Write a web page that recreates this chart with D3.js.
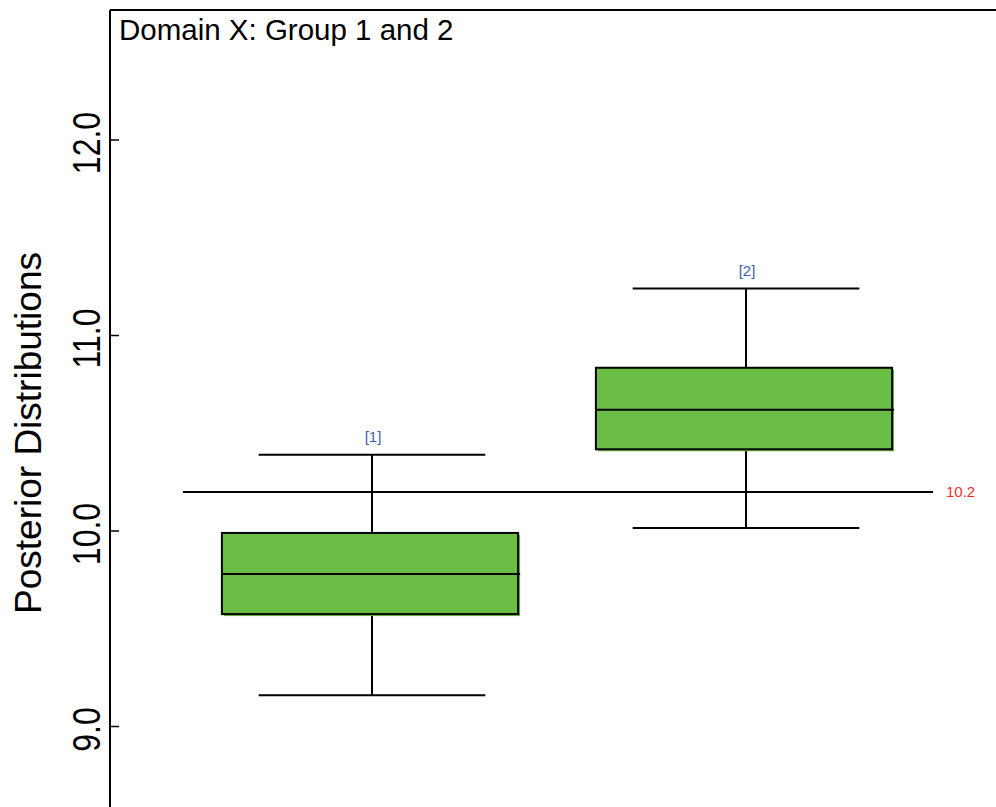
<!DOCTYPE html>
<html>
<head>
<meta charset="utf-8">
<script src="https://cdn.jsdelivr.net/npm/d3@7"></script>
<style>
  html, body { margin: 0; padding: 0; background: #fff; }
  svg { display: block; font-family: "Liberation Sans", Arial, sans-serif; }
</style>
</head>
<body>
<svg id="chart" width="996" height="807"></svg>
<script>
// Posterior summaries per group
const groups = [1, 2];
const groupLabels = ["[1]", "[2]"];
const whiskerLow = [9.16, 10.015];
const q1 = [9.575, 10.418];
const median = [9.78, 10.62];
const q3 = [9.99, 10.835];
const whiskerHigh = [10.39, 11.24];
const refValue = 10.2;
const yTicks = [9.0, 10.0, 11.0, 12.0];
const title = "Domain X: Group 1 and 2";
const yTitle = "Posterior Distributions";

const svg = d3.select("#chart");
const W = 996, H = 807;
const frameLeft = 110, frameTop = 10;

const x = d3.scaleLinear().domain([0.5, 2.5]).range([185, 933]);
const y = d3.scaleLinear().domain([10, 11]).range([531, 335.5]);

const boxHalf = 0.396;   // half box width in group units
const capHalf = 0.303;   // half cap width in group units
const boxShift = -2;     // boxes sit slightly left of the whisker stems

// frame: left axis and top border
svg.append("line").attr("x1", frameLeft).attr("x2", frameLeft).attr("y1", frameTop).attr("y2", H)
  .attr("stroke", "#000").attr("stroke-width", 2);
svg.append("line").attr("x1", frameLeft).attr("x2", W).attr("y1", frameTop).attr("y2", frameTop)
  .attr("stroke", "#000").attr("stroke-width", 2);

// y axis ticks (inward) and rotated labels
const yAxis = svg.append("g");
yTicks.forEach(t => {
  yAxis.append("line").attr("x1", frameLeft).attr("x2", frameLeft + 9)
    .attr("y1", y(t)).attr("y2", y(t)).attr("stroke", "#000").attr("stroke-width", 1.5);
  yAxis.append("text")
    .attr("transform", `translate(100,${y(t) + 3}) rotate(-90) scale(1,1.22)`)
    .attr("text-anchor", "middle")
    .attr("font-size", 32)
    .text(d3.format(".1f")(t));
});

svg.append("text")
  .attr("transform", `translate(41,433) rotate(-90) scale(1,1.1)`)
  .attr("text-anchor", "middle")
  .attr("font-size", 34)
  .attr("textLength", 362)
  .attr("lengthAdjust", "spacingAndGlyphs")
  .text(yTitle);

svg.append("text")
  .attr("x", 119).attr("y", 40)
  .attr("font-size", 29.5)
  .text(title);

// reference line
svg.append("line")
  .attr("x1", x(0.5) - 2).attr("x2", x(2.5))
  .attr("y1", y(refValue)).attr("y2", y(refValue))
  .attr("stroke", "#000").attr("stroke-width", 2);
svg.append("text")
  .attr("x", x(2.5) + 13).attr("y", y(refValue) + 5)
  .attr("font-size", 15).attr("fill", "#ff2a2a")
  .text(d3.format(".1f")(refValue));

// boxes
const g = svg.append("g");
groups.forEach((gv, i) => {
  const cx = x(gv);
  // whisker stem
  g.append("line").attr("x1", cx).attr("x2", cx)
    .attr("y1", y(whiskerHigh[i])).attr("y2", y(whiskerLow[i]))
    .attr("stroke", "#000").attr("stroke-width", 2);
  // caps
  [whiskerHigh[i], whiskerLow[i]].forEach(v => {
    g.append("line").attr("x1", x(gv - capHalf)).attr("x2", x(gv + capHalf))
      .attr("y1", y(v)).attr("y2", y(v))
      .attr("stroke", "#000").attr("stroke-width", 2);
  });
  const bx = x(gv - boxHalf) + boxShift, bw = x(gv + boxHalf) - x(gv - boxHalf);
  const by = y(q3[i]), bh = y(q1[i]) - y(q3[i]);
  // offset fill
  g.append("rect").attr("x", bx + 2).attr("y", by + 2).attr("width", bw).attr("height", bh)
    .attr("fill", "#6abd45");
  g.append("rect").attr("x", bx).attr("y", by).attr("width", bw).attr("height", bh)
    .attr("fill", "#6abd45").attr("stroke", "#000").attr("stroke-width", 2);
  // median
  g.append("line").attr("x1", bx).attr("x2", bx + bw + 2)
    .attr("y1", y(median[i])).attr("y2", y(median[i]))
    .attr("stroke", "#000").attr("stroke-width", 2);
  // group label
  g.append("text").attr("x", cx + 1).attr("y", y(whiskerHigh[i]) - 13)
    .attr("text-anchor", "middle").attr("font-size", 15).attr("fill", "#3f5fb5")
    .text(groupLabels[i]);
});
</script>
</body>
</html>
